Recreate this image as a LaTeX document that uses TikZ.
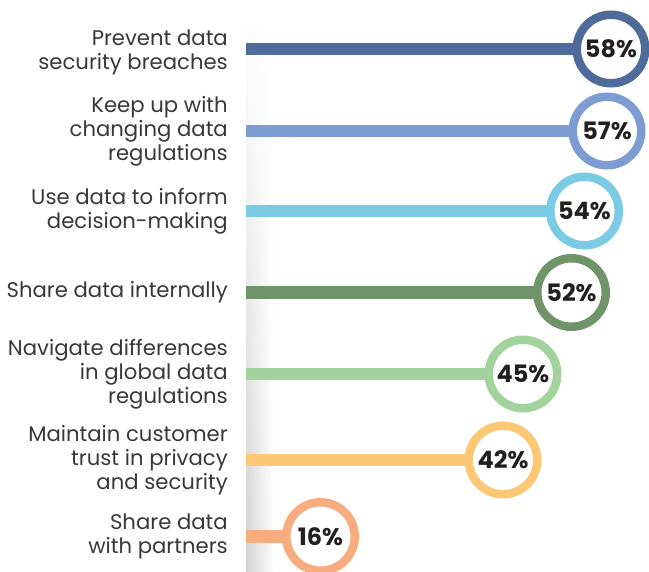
\documentclass[tikz,border=0pt]{standalone}
\usepackage{fontspec}
\setmainfont{Poppins}
\usetikzlibrary{backgrounds,fadings}
\definecolor{cA}{HTML}{4F6B99}
\definecolor{cB}{HTML}{7D9DD2}
\definecolor{cC}{HTML}{7CCBE5}
\definecolor{cD}{HTML}{6F9468}
\definecolor{cE}{HTML}{A3D39C}
\definecolor{cF}{HTML}{FDC876}
\definecolor{cG}{HTML}{F7AC7F}
\definecolor{txt}{HTML}{383838}
\definecolor{pcttxt}{HTML}{231F20}
\tikzfading[name=vfade, top color=transparent!100, middle color=transparent!0, bottom color=transparent!25]
\begin{document}
\begin{tikzpicture}[x=1pt,y=-1pt,
  lab/.style={anchor=east, inner sep=0pt, align=right, text=txt, font=\fontsize{21.2}{24}\selectfont},
  ring/.style={circle, draw=#1, fill=white, line width=8.5pt, minimum size=68.5pt, inner sep=0pt, font=\bfseries\fontsize{24}{24}\selectfont, text=pcttxt},
  bar/.style={line width=12.5pt, draw=#1}]
\useasboundingbox (0,0) rectangle (649,572);
% rings
\node[ring=cA] (p1) at (611,49) {58\%};
\node[ring=cB] (p2) at (607,131) {57\%};
\node[ring=cC] (p3) at (584.5,211) {54\%};
\node[ring=cD] (p4) at (571.5,292.5) {52\%};
\node[ring=cE] (p5) at (523,374) {45\%};
\node[ring=cF] (p6) at (503,460) {42\%};
\node[ring=cG] (p7) at (320.5,536.5) {16\%};
% bar starts
\coordinate (s1) at (246,49);
\coordinate (s2) at (246,131);
\coordinate (s3) at (246,211);
\coordinate (s4) at (246,292.5);
\coordinate (s5) at (246,374);
\coordinate (s6) at (246,460);
\coordinate (s7) at (246,536.5);
\begin{pgfonlayer}{background}
\shade[left color=black!24, right color=white, path fading=vfade] (246,15) rectangle (274,572);
\draw[bar=cA] (s1) -- (p1.center);
\draw[bar=cB] (s2) -- (p2.center);
\draw[bar=cC] (s3) -- (p3.center);
\draw[bar=cD] (s4) -- (p4.center);
\draw[bar=cE] (s5) -- (p5.center);
\draw[bar=cF] (s6) -- (p6.center);
\draw[bar=cG] (s7) -- (p7.center);
\end{pgfonlayer}
% labels
\node[lab] (l1) at (228,52) {Prevent data\\security breaches};
\node[lab] (l2) at (228,131) {Keep up with\\changing data\\regulations};
\node[lab] (l3) at (228,211) {Use data to inform\\decision-making};
\node[lab] (l4) at (228,292.5) {Share data internally};
\node[lab] (l5) at (228,374) {Navigate differences\\in global data\\regulations};
\node[lab] (l6) at (228,460) {Maintain customer\\trust in privacy\\and security};
\node[lab] (l7) at (228,536.5) {Share data\\with partners};
\end{tikzpicture}
\end{document}
